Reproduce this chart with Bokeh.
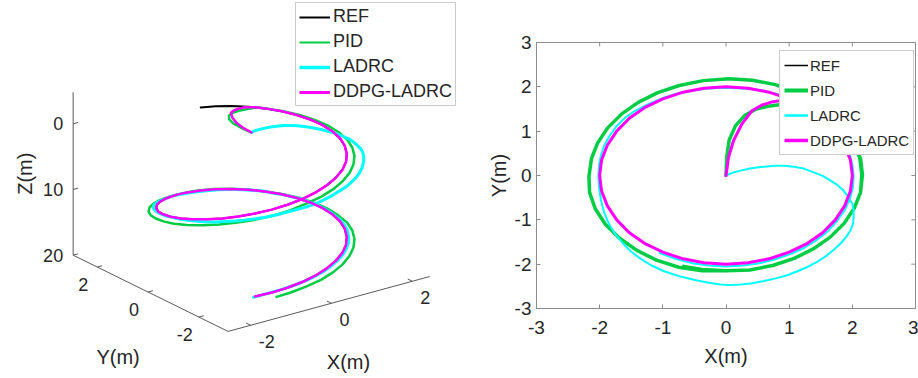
from bokeh.plotting import figure
from bokeh.models import Range1d, FixedTicker, Legend, LegendItem
from bokeh.layouts import row
from bokeh.embed import file_html
from bokeh.resources import INLINE
from bokeh.core.properties import value
import math

# ---------------- data ----------------
SERIES = ["REF", "PID", "LADRC", "DDPG-LADRC"]

REF_x = [0, 0.35, 0.68, 1.0, 1.29, 1.53, 1.73, 1.88, 1.97, 2.0,
         1.97, 1.88, 1.73, 1.53, 1.29, 1.0, 0.68, 0.35, 0,
         -0.35, -0.68, -1.0, -1.29, -1.53, -1.73, -1.88, -1.97, -2.0,
         -1.97, -1.88, -1.73, -1.53, -1.29, -1.0, -0.68, -0.35, 0,
         0.35, 0.68, 1.0, 1.29, 1.53, 1.73, 1.88, 1.97, 2.0,
         1.97, 1.88, 1.73, 1.53, 1.29, 1.0, 0.68, 0.35, 0,
         -0.35, -0.68, -1.0]
REF_y = [2.0, 1.97, 1.88, 1.73, 1.53, 1.29, 1.0, 0.68, 0.35, 0,
         -0.35, -0.68, -1.0, -1.29, -1.53, -1.73, -1.88, -1.97, -2.0,
         -1.97, -1.88, -1.73, -1.53, -1.29, -1.0, -0.68, -0.35, 0,
         0.35, 0.68, 1.0, 1.29, 1.53, 1.73, 1.88, 1.97, 2.0,
         1.97, 1.88, 1.73, 1.53, 1.29, 1.0, 0.68, 0.35, 0,
         -0.35, -0.68, -1.0, -1.29, -1.53, -1.73, -1.88, -1.97, -2.0,
         -1.97, -1.88, -1.73]
REF_z = [0, 0.35, 0.70, 1.05, 1.40, 1.75, 2.11, 2.46, 2.81, 3.16,
         3.51, 3.86, 4.21, 4.56, 4.91, 5.26, 5.61, 5.96, 6.32,
         6.67, 7.02, 7.37, 7.72, 8.07, 8.42, 8.77, 9.12, 9.47,
         9.82, 10.18, 10.53, 10.88, 11.23, 11.58, 11.93, 12.28, 12.63,
         12.98, 13.33, 13.68, 14.04, 14.39, 14.74, 15.09, 15.44, 15.79,
         16.14, 16.49, 16.84, 17.19, 17.54, 17.89, 18.25, 18.6, 18.95,
         19.3, 19.65, 20.0]

PID_x = [0, 0.01, 0.05, 0.15, 0.30, 0.48, 0.70, 0.91, 1.20,
         1.39, 1.65, 1.87, 2.03, 2.13, 2.16, 2.13, 2.03, 1.87, 1.65, 1.39, 1.08, 0.74, 0.38, 0,
         -0.38, -0.75, -1.10, -1.41, -1.69, -1.91, -2.07, -2.16, -2.17,
         -2.13, -2.03, -1.87, -1.65, -1.39, -1.08, -0.74, -0.36, 0.05,
         0.42, 0.78, 1.10, 1.39, 1.65, 1.87, 2.03, 2.12, 2.15,
         2.13, 2.03, 1.87, 1.65, 1.39, 1.08, 0.74, 0.38, 0,
         -0.38, -0.67]
PID_y = [0, 0.40, 0.80, 1.12, 1.36, 1.50, 1.57, 1.61, 1.70,
         1.65, 1.39, 1.08, 0.74, 0.38, 0.02, -0.38, -0.74, -1.08, -1.39, -1.65, -1.87, -2.03, -2.13, -2.15,
         -2.15, -2.07, -1.91, -1.69, -1.41, -1.10, -0.75, -0.38, -0.02,
         0.38, 0.74, 1.08, 1.39, 1.65, 1.87, 2.03, 2.14, 2.18,
         2.15, 2.05, 1.88, 1.66, 1.39, 1.08, 0.74, 0.38, 0.02,
         -0.38, -0.74, -1.08, -1.39, -1.65, -1.87, -2.03, -2.13, -2.15,
         -2.12, -2.05]
PID_z = [0, 0.1, 0.2, 0.35, 0.5, 0.65, 0.8, 1.0, 1.4,
         1.82, 2.18, 2.53, 2.88, 3.23, 3.58, 3.93, 4.28, 4.63, 4.98, 5.33, 5.68, 6.04, 6.39, 6.74,
         7.09, 7.44, 7.79, 8.14, 8.49, 8.84, 9.19, 9.54, 9.89,
         10.25, 10.6, 10.95, 11.3, 11.65, 12.0, 12.35, 12.7, 13.05,
         13.4, 13.75, 14.11, 14.46, 14.81, 15.16, 15.51, 15.86, 16.21,
         16.56, 16.91, 17.26, 17.61, 17.96, 18.32, 18.67, 19.02, 19.37,
         19.72, 20.0]

LADRC_x = [0, 0.10, 0.23, 0.38, 0.55, 0.76, 0.92, 1.07, 1.24, 1.39,
           1.53, 1.65, 1.76, 1.86, 1.94, 2.00, 2.02, 2.02, 2.01, 1.97,
           1.90, 1.81, 1.71, 1.60, 1.45, 1.28, 1.13, 0.97, 0.79, 0.60,
           0.42, 0.23, 0.07, -0.09, -0.27, -0.46, -0.72, -0.98, -1.18, -1.35,
           -1.50, -1.62, -1.75, -1.85, -1.93, -1.98, -2.01, -2.02, -2.01, -1.98,
           -1.93, -1.85, -1.74, -1.60, -1.44, -1.25, -1.03, -0.80, -0.55, -0.30,
           -0.05, 0.20, 0.40, 0.60, 0.80, 1.00, 1.28, 1.42, 1.60, 1.75,
           1.87, 1.95, 2.00, 2.02, 2.01, 1.96, 1.88, 1.76, 1.62, 1.44,
           1.24, 1.02, 0.78, 0.53, 0.27, 0.00, -0.27, -0.53, -0.80, -1.05]
LADRC_y = [0, 0.06, 0.11, 0.16, 0.19, 0.22, 0.22, 0.20, 0.15, 0.07,
           -0.01, -0.11, -0.21, -0.34, -0.49, -0.64, -0.79, -0.94, -1.09, -1.24,
           -1.39, -1.54, -1.67, -1.80, -1.94, -2.07, -2.16, -2.25, -2.32, -2.38,
           -2.43, -2.46, -2.47, -2.46, -2.42, -2.37, -2.28, -2.16, -2.03, -1.88,
           -1.72, -1.55, -1.33, -1.10, -0.83, -0.55, -0.27, 0.0, 0.23, 0.45,
           0.67, 0.88, 1.10, 1.30, 1.46, 1.60, 1.73, 1.84, 1.91, 1.96,
           1.98, 1.97, 1.95, 1.91, 1.84, 1.74, 1.57, 1.43, 1.23, 1.00,
           0.76, 0.52, 0.26, 0.0, -0.27, -0.53, -0.78, -1.02, -1.25, -1.45,
           -1.63, -1.77, -1.89, -1.98, -2.03, -2.05, -2.03, -1.98, -1.88, -1.75]
LADRC_z = [0, 0.08, 0.2, 0.35, 0.5, 0.75, 0.9, 1.1, 1.35, 1.6,
           1.85, 2.1, 2.35, 2.6, 2.85, 3.1, 3.3, 3.5, 3.7, 3.9,
           4.1, 4.3, 4.5, 4.7, 4.9, 5.1, 5.25, 5.4, 5.55, 5.7,
           5.85, 6.0, 6.15, 6.3, 6.45, 6.6, 6.85, 7.1, 7.3, 7.5,
           7.7, 7.9, 8.15, 8.4, 8.65, 8.95, 9.2, 9.45, 9.7, 9.9,
           10.1, 10.35, 10.6, 10.85, 11.1, 11.35, 11.6, 11.85, 12.1, 12.4,
           12.65, 12.9, 13.1, 13.3, 13.5, 13.75, 14.05, 14.3, 14.55, 14.8,
           15.05, 15.3, 15.55, 15.8, 16.05, 16.3, 16.55, 16.8, 17.05, 17.3,
           17.55, 17.8, 18.05, 18.3, 18.55, 18.8, 19.05, 19.3, 19.6, 20.0]

DDPG_x = [0, 0.04, 0.12, 0.25, 0.41, 0.57, 0.73, 0.90, 1.13,
          1.29, 1.53, 1.73, 1.88, 1.97, 2.0, 1.97, 1.88, 1.73, 1.53, 1.29, 1.0, 0.68, 0.35, 0,
          -0.35, -0.68, -1.0, -1.29, -1.53, -1.73, -1.88, -1.97, -2.0,
          -1.97, -1.88, -1.73, -1.53, -1.29, -1.0, -0.68, -0.35, 0,
          0.35, 0.68, 1.0, 1.29, 1.53, 1.73, 1.88, 1.97, 2.0,
          1.97, 1.88, 1.73, 1.53, 1.29, 1.0, 0.68, 0.35, 0,
          -0.35, -0.68, -1.0]
DDPG_y = [0, 0.41, 0.79, 1.16, 1.46, 1.59, 1.66, 1.70, 1.65,
          1.53, 1.29, 1.0, 0.68, 0.35, 0, -0.35, -0.68, -1.0, -1.29, -1.53, -1.73, -1.88, -1.97, -2.0,
          -1.97, -1.88, -1.73, -1.53, -1.29, -1.0, -0.68, -0.35, 0,
          0.35, 0.68, 1.0, 1.29, 1.53, 1.73, 1.88, 1.97, 2.0,
          1.97, 1.88, 1.73, 1.53, 1.29, 1.0, 0.68, 0.35, 0,
          -0.35, -0.68, -1.0, -1.29, -1.53, -1.73, -1.88, -1.97, -2.0,
          -1.97, -1.88, -1.73]
DDPG_z = [0, 0.1, 0.2, 0.3, 0.45, 0.6, 0.75, 0.9, 1.2,
          1.40, 1.75, 2.11, 2.46, 2.81, 3.16, 3.51, 3.86, 4.21, 4.56, 4.91, 5.26, 5.61, 5.96, 6.32,
          6.67, 7.02, 7.37, 7.72, 8.07, 8.42, 8.77, 9.12, 9.47,
          9.82, 10.18, 10.53, 10.88, 11.23, 11.58, 11.93, 12.28, 12.63,
          12.98, 13.33, 13.68, 14.04, 14.39, 14.74, 15.09, 15.44, 15.79,
          16.14, 16.49, 16.84, 17.19, 17.54, 17.89, 18.25, 18.6, 18.95,
          19.3, 19.65, 20.0]

TICKS_2D = [-3, -2, -1, 0, 1, 2, 3]
TICK_LABELS_2D = ["-3", "-2", "-1", "0", "1", "2", "3"]
TICKS_3D_XY = [-2, 0, 2]
TICK_LABELS_3D_XY = ["-2", "0", "2"]
TICKS_3D_Z = [0, 10, 20]
TICK_LABELS_3D_Z = ["0", "10", "20"]

DATA = {
    "REF": (REF_x, REF_y, REF_z),
    "PID": (PID_x, PID_y, PID_z),
    "LADRC": (LADRC_x, LADRC_y, LADRC_z),
    "DDPG-LADRC": (DDPG_x, DDPG_y, DDPG_z),
}
for _s, (_a, _b, _c) in DATA.items():
    if not (len(_a) == len(_b) == len(_c)):
        raise ValueError(f"{_s}: {len(_a)} {len(_b)} {len(_c)}")

# ---------------- styles ----------------
COLORS = {"REF": "#000000", "PID": "#00CC44", "LADRC": "#00FFFF", "DDPG-LADRC": "#FF00FF"}
W3D_LINE = {"REF": 2.0, "PID": 2.5, "LADRC": 3.0, "DDPG-LADRC": 2.5}
W2D_LINE = {"REF": 1.5, "PID": 3.5, "LADRC": 2.0, "DDPG-LADRC": 3.0}
AX_COL = "#8c8c8c"
TXT_COL = "#262626"
FONT = "Liberation Sans"

# ---------------- left: 3-D view (oblique projection) ----------------
W1, H1 = 470, 378
XL = (-2.56, 2.43)
YL = (-3.15, 2.95)
ZL = (-4.8, 20.0)
PO = (251.0, 263.4)     # screen position of (0, 0, 20)
PX = (40.4, -11.0)      # screen step per unit X
PY = (-25.4, -12.5)     # screen step per unit Y
PZ = 6.57               # screen step per unit Z (Z increases downward)


def proj(xs, ys, zs):
    u = [PO[0] + PX[0] * x + PY[0] * y for x, y in zip(xs, ys)]
    v = [PO[1] + PX[1] * x + PY[1] * y + PZ * (z - ZL[1]) for x, y, z in zip(xs, ys, zs)]
    return u, v


p1 = figure(width=W1, height=H1, x_range=Range1d(0, W1), y_range=Range1d(H1, 0),
            output_backend="svg", toolbar_location=None, min_border=0,
            x_axis_location=None, y_axis_location=None)
p1.frame_align = False
p1.grid.visible = False
p1.outline_line_color = None

axes_pts = [
    proj([XL[0], XL[0]], [YL[1], YL[1]], [ZL[0], ZL[1]]),
    proj([XL[0], XL[0]], [YL[1], YL[0]], [ZL[1], ZL[1]]),
    proj([XL[0], XL[1]], [YL[0], YL[0]], [ZL[1], ZL[1]]),
]
p1.multi_line([a[0] for a in axes_pts], [a[1] for a in axes_pts], line_color="#5a5a5a", line_width=1)

tx, ty = [], []
for z in TICKS_3D_Z:
    u, v = proj([XL[0], XL[0] + 0.12], [YL[1], YL[1]], [z, z]); tx.append(u); ty.append(v)
for y in TICKS_3D_XY:
    u, v = proj([XL[0], XL[0] + 0.12], [y, y], [ZL[1], ZL[1]]); tx.append(u); ty.append(v)
for x in TICKS_3D_XY:
    u, v = proj([x, x], [YL[0], YL[0] + 0.18], [ZL[1], ZL[1]]); tx.append(u); ty.append(v)
p1.multi_line(tx, ty, line_color="#5a5a5a", line_width=1)

zu, zv = proj([XL[0]] * 3, [YL[1]] * 3, TICKS_3D_Z)
p1.text([u - 10 for u in zu], zv, text=TICK_LABELS_3D_Z, text_align="right", text_baseline="middle",
        text_font=value(FONT), text_font_size="18px", text_color=TXT_COL)
yu, yv = proj([XL[0]] * 3, TICKS_3D_XY, [ZL[1]] * 3)
p1.text([u - 14 for u in yu], [v + 17 for v in yv], text=TICK_LABELS_3D_XY, text_align="center",
        text_baseline="middle", text_font=value(FONT), text_font_size="18px", text_color=TXT_COL)
xu, xv = proj(TICKS_3D_XY, [YL[0]] * 3, [ZL[1]] * 3)
p1.text([u + 8 for u in xu], [v + 16 for v in xv], text=TICK_LABELS_3D_XY, text_align="left",
        text_baseline="middle", text_font=value(FONT), text_font_size="18px", text_color=TXT_COL)

(zt_u,), (zt_v,) = proj([XL[0]], [YL[1]], [7.6])
p1.text([zt_u - 48], [zt_v], text=["Z(m)"], angle=math.pi / 2, text_align="center", text_baseline="middle",
        text_font=value(FONT), text_font_size="20px", text_color=TXT_COL)
(yt_u,), (yt_v,) = proj([XL[0]], [0.0], [ZL[1]])
p1.text([yt_u - 30], [yt_v + 65], text=["Y(m)"], text_align="center", text_baseline="middle",
        text_font=value(FONT), text_font_size="20px", text_color=TXT_COL)
(xt_u,), (xt_v,) = proj([0.0], [YL[0]], [ZL[1]])
p1.text([xt_u + 17], [xt_v + 59], text=["X(m)"], text_align="center", text_baseline="middle",
        text_font=value(FONT), text_font_size="20px", text_color=TXT_COL)

for s in SERIES:
    xs, ys, zs = DATA[s]
    u, v = proj(xs, ys, zs)
    p1.line(u, v, line_color=COLORS[s], line_width=W3D_LINE[s], line_join="round", line_cap="round")

leg1_w = {"REF": 2.0, "PID": 2.0, "LADRC": 3.5, "DDPG-LADRC": 3.0}
leg1_items = []
for s in SERIES:
    dummy = p1.line([0, 0], [0, 0], line_color=COLORS[s], line_width=leg1_w[s], visible=False)
    leg1_items.append(LegendItem(label=s, renderers=[dummy]))
leg1 = Legend(items=leg1_items, location=(295, 272), orientation="vertical",
              label_text_font=FONT, label_text_font_size="18px", label_text_color=TXT_COL,
              label_height=20, glyph_height=20, glyph_width=31, label_standoff=3,
              spacing=4, padding=3, margin=0, border_line_color="#999999", border_line_width=1,
              background_fill_color="white", background_fill_alpha=1.0)
p1.add_layout(leg1)

# ---------------- right: XY plane ----------------
p2 = figure(width=448, height=378, x_range=Range1d(-3, 3), y_range=Range1d(-3, 3),
            output_backend="svg", toolbar_location=None,
            min_border_left=66, min_border_right=3, min_border_top=42, min_border_bottom=70)
p2.frame_align = False
p2.grid.visible = False
p2.outline_line_color = AX_COL

for ax in (p2.xaxis[0], p2.yaxis[0]):
    ax.ticker = FixedTicker(ticks=TICKS_2D)
    ax.major_label_overrides = {t: l for t, l in zip(TICKS_2D, TICK_LABELS_2D)}
    ax.minor_tick_line_color = None
    ax.major_tick_in = 4
    ax.major_tick_out = 0
    ax.axis_line_color = AX_COL
    ax.major_tick_line_color = AX_COL
    ax.major_label_text_font = FONT
    ax.major_label_text_font_size = "19px"
    ax.major_label_text_color = TXT_COL
    ax.axis_label_text_font = FONT
    ax.axis_label_text_font_size = "20px"
    ax.axis_label_text_font_style = "normal"
    ax.axis_label_text_color = TXT_COL
p2.xaxis[0].axis_label = "X(m)"
p2.yaxis[0].axis_label = "Y(m)"
p2.xaxis[0].major_label_standoff = 12
p2.xaxis[0].axis_label_standoff = 8
p2.yaxis[0].major_label_standoff = 5
p2.yaxis[0].axis_label_standoff = 2

# inward ticks on the top and right edges of the box
TICK_DX = 0.065
TICK_DY = 0.09
p2.segment(x0=TICKS_2D, y0=[3] * 7, x1=TICKS_2D, y1=[3 - TICK_DY] * 7, line_color=AX_COL, line_width=1)
p2.segment(x0=[3] * 7, y0=TICKS_2D, x1=[3 - TICK_DX] * 7, y1=TICKS_2D, line_color=AX_COL, line_width=1)

for s in SERIES:
    xs, ys, _ = DATA[s]
    p2.line(xs, ys, line_color=COLORS[s], line_width=W2D_LINE[s], line_join="round", line_cap="round")

leg2_w = {"REF": 1.5, "PID": 4.0, "LADRC": 2.5, "DDPG-LADRC": 3.5}
leg2_items = []
for s in SERIES:
    dummy = p2.line([0, 0], [0, 0], line_color=COLORS[s], line_width=leg2_w[s], visible=False)
    leg2_items.append(LegendItem(label=s, renderers=[dummy]))
leg2 = Legend(items=leg2_items, location=(243, 153), orientation="vertical",
              label_text_font=FONT, label_text_font_size="15px", label_text_color=TXT_COL,
              label_height=20, glyph_height=20, glyph_width=24, label_standoff=2,
              spacing=5, padding=4, margin=0, border_line_color="#999999", border_line_width=1,
              background_fill_color="white", background_fill_alpha=1.0)
p2.add_layout(leg2)

layout = row(p1, p2)
open("out.html", "w").write(file_html(layout, INLINE))
